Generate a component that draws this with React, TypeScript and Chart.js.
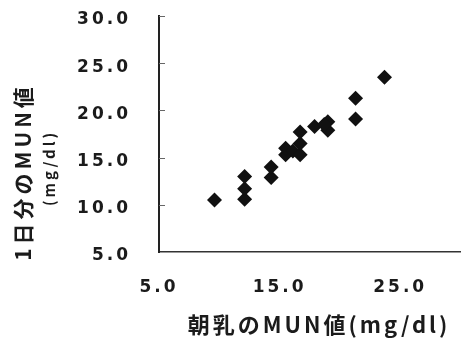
import React, { useEffect, useRef } from "react";
import { Chart, registerables } from "chart.js";

Chart.register(...registerables);

// Morning milk MUN (mg/dl)
const morningMUN = [9.6, 12.1, 12.1, 12.1, 14.3, 14.3, 15.5, 15.5, 16.1, 16.7, 16.7, 16.7, 17.9, 19.0, 19.0, 18.7, 21.3, 21.3, 23.7];
// Daily MUN (mg/dl)
const dailyMUN = [10.5, 10.6, 11.7, 13.0, 12.9, 14.0, 15.3, 16.0, 15.7, 15.3, 16.5, 17.7, 18.3, 18.8, 17.9, 18.5, 21.3, 19.1, 23.5];

const xTickValues = [5, 15, 25];
const yTickValues = [5, 10, 15, 20, 25, 30];

const xTitle = "朝乳のMUN値(mg/dl)";
const yTitle = "1日分のMUN値";
const yUnit = "(mg/dl)";

const TEXT = "#1b1b1b";

const titlePlugin = {
  id: "titles",
  beforeDraw(chart: any) {
    chart.ctx.letterSpacing = "3px";
  },
  afterDraw(chart: any) {
    const { ctx, chartArea } = chart;
    const ys = chart.scales.y;
    // inner tick marks on y axis
    ctx.save();
    ctx.strokeStyle = "#666";
    ctx.lineWidth = 1;
    yTickValues.forEach((v) => {
      if (v === 5) return;
      const py = Math.round(ys.getPixelForValue(v)) + 0.5;
      ctx.beginPath();
      ctx.moveTo(chartArea.left, py);
      ctx.lineTo(chartArea.left + 6, py);
      ctx.stroke();
    });
    ctx.restore();

    ctx.save();
    ctx.fillStyle = TEXT;
    ctx.textAlign = "center";
    ctx.textBaseline = "middle";
    // x title
    ctx.letterSpacing = "3px";
    ctx.font = 'bold 22px "Noto Sans CJK JP"';
    ctx.fillText(xTitle, chartArea.left + 160, chartArea.bottom + 73);
    // y title
    ctx.save();
    ctx.translate(chartArea.left - 136, chartArea.top + 158);
    ctx.rotate(-Math.PI / 2);
    ctx.letterSpacing = "4px";
    ctx.font = 'bold 21px "Noto Sans CJK JP"';
    ctx.fillText(yTitle, 2, 0);
    ctx.restore();
    ctx.save();
    ctx.translate(chartArea.left - 110, chartArea.top + 153);
    ctx.rotate(-Math.PI / 2);
    ctx.letterSpacing = "3px";
    ctx.font = 'bold 15px "Noto Sans CJK JP"';
    ctx.fillText(yUnit, 1, 0);
    ctx.restore();
    ctx.restore();
  },
};

export default function App() {
  const ref = useRef<HTMLCanvasElement | null>(null);

  useEffect(() => {
    if (!ref.current) return;
    const tickFont = { family: '"DejaVu Sans"', size: 17, weight: "bold" as const };
    const chart = new Chart(ref.current, {
      type: "scatter",
      data: {
        datasets: [
          {
            data: morningMUN.map((x, i) => ({ x, y: dailyMUN[i] })),
            pointStyle: "rectRot",
            pointRadius: 7.5,
            backgroundColor: "#111",
            borderColor: "#111",
            borderWidth: 0,
          },
        ],
      },
      options: {
        animation: false,
        responsive: false,
        layout: { padding: { top: 16, right: 3, left: 0, bottom: 0 } },
        plugins: { legend: { display: false }, tooltip: { enabled: false } },
        scales: {
          x: {
            type: "linear",
            min: 5,
            max: 30,
            afterBuildTicks: (axis: any) => {
              axis.ticks = xTickValues.map((v) => ({ value: v }));
            },
            afterFit: (scale: any) => {
              scale.height = 92;
              scale.paddingLeft = 0;
              scale.paddingRight = 0;
            },
            grid: { drawOnChartArea: false, drawTicks: false },
            border: { display: true, color: "#333", width: 1.5 },
            ticks: {
              font: tickFont,
              color: TEXT,
              padding: 25,
              maxRotation: 0,
              autoSkip: false,
              callback: (v: any) => Number(v).toFixed(1),
            },
          },
          y: {
            type: "linear",
            min: 5,
            max: 30,
            afterBuildTicks: (axis: any) => {
              axis.ticks = yTickValues.map((v) => ({ value: v }));
            },
            afterFit: (scale: any) => {
              scale.width = 159;
              scale.paddingTop = 0;
              scale.paddingBottom = 0;
            },
            grid: { drawOnChartArea: false, drawTicks: false },
            border: { display: true, color: "#222", width: 2 },
            ticks: {
              font: tickFont,
              color: TEXT,
              padding: 28,
              labelOffset: 4,
              autoSkip: false,
              callback: (v: any) => Number(v).toFixed(1),
            },
          },
        },
      },
      plugins: [titlePlugin],
    });
    return () => chart.destroy();
  }, []);

  return (
    <div style={{ position: "fixed", left: 0, top: 0, width: 468, height: 344, background: "#fff" }}>
      <canvas ref={ref} width={468} height={344} style={{ width: 468, height: 344, display: "block" }} />
    </div>
  );
}
